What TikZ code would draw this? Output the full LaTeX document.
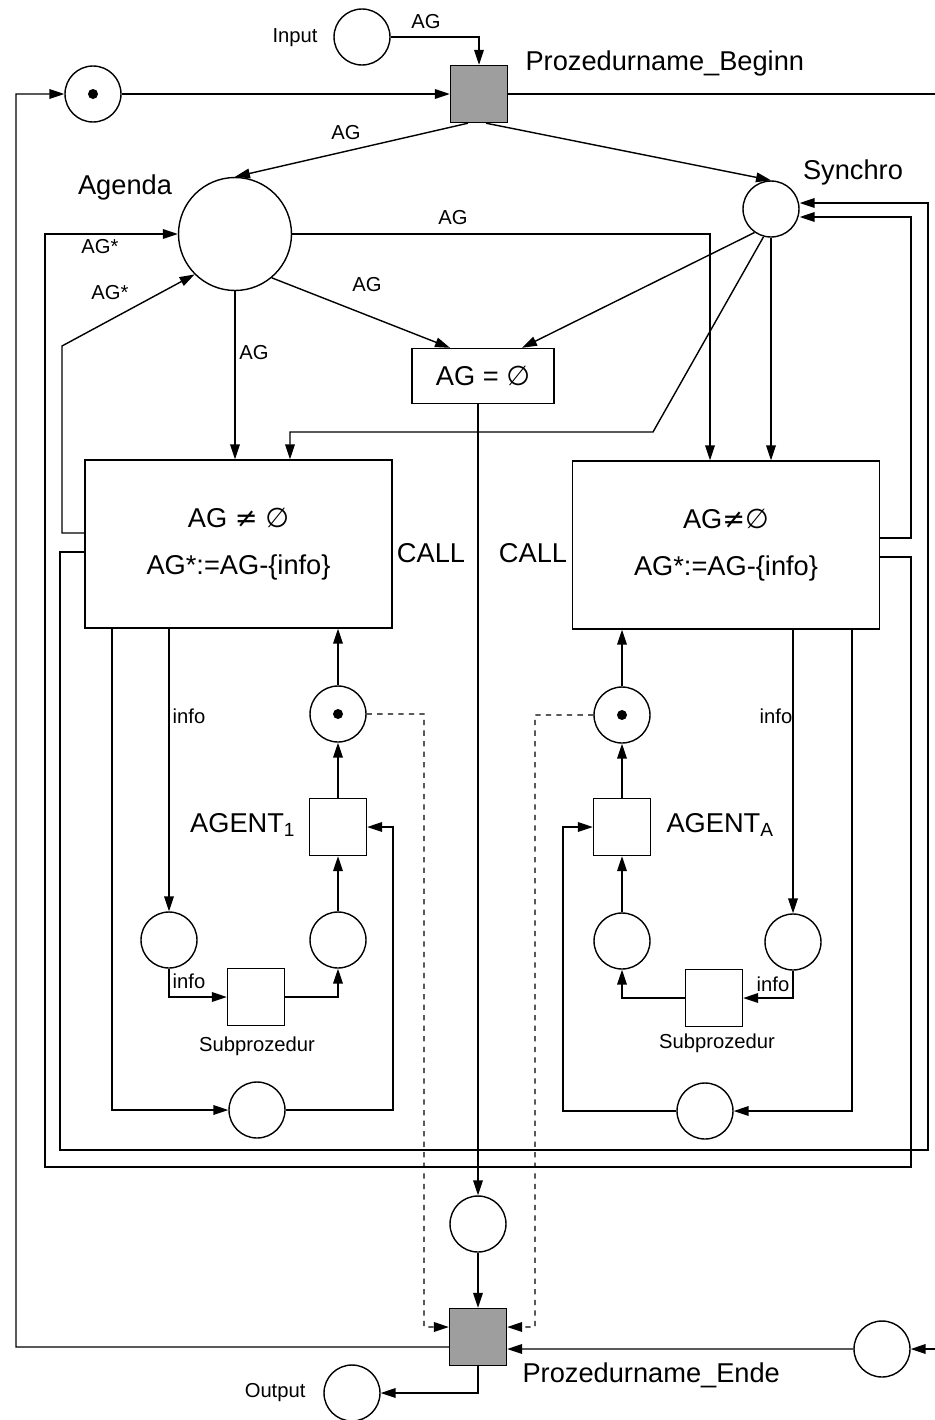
\documentclass[tikz,border=0pt]{standalone}
\usepackage{fontspec}
\setmainfont{Liberation Sans}
\newfontfamily\dejavu{DejaVu Sans}
\usetikzlibrary{arrows.meta}
\newcommand{\ungleich}{{\dejavu ≠}}
\newcommand{\leermenge}{{\dejavu ∅}}

\begin{document}
\begin{tikzpicture}[x=0.02cm,y=-0.02cm,line width=0.8pt,
	arc/.style={-{Triangle[length=8.5pt,width=5.5pt]}},
	dasharc/.style={arc,dashed},
	place/.style={circle,draw,minimum size=1.12cm,inner sep=0pt},
	trans/.style={rectangle,draw,minimum width=1.14cm,minimum height=1.14cm,inner sep=0pt},
	shaded/.style={trans,fill=black!38},
	big/.style={font=\fontsize{15.5}{18}\selectfont},
	lab/.style={font=\fontsize{11.5}{14}\selectfont},
	callbox/.style={draw,align=center,minimum width=6.14cm,minimum height=3.36cm,
		font=\fontsize{15.5}{26.7}\selectfont}]
				\useasboundingbox (0,0) rectangle (935,1420);
				
				% Stellen und Transitionen oben
				\node[place] (inp) at (362,37) {};
				\node[lab,anchor=east] (tInp) at (324,38) {Input};
				\node[shaded] (beg) at (479,94) {};
				\node[big,anchor=west] (tBeg) at (519,63) {Prozedurname\_Beginn};
				\node[place] (tok) at (93,94) {};
				\fill (tok.center) circle (0.1cm);
				\node[place,minimum size=2.26cm] (agenda) at (235,234) {};
				\node[big] (tAgenda) at (125,187) {Agenda};
				\node[place] (synchro) at (771,209) {};
				\node[big] (tSynchro) at (853,172) {Synchro};
				\node[draw,big,minimum width=2.84cm,minimum height=1.1cm] (leer) at (483,376) {AG = \leermenge};
				
				% CALL-Transitionen
				\node[callbox] (call1) at (238.5,544) {AG \ungleich{} \leermenge\\AG*:=AG-\{info\}};
				\node[callbox] (call2) at (726,545) {AG\ungleich\leermenge\\AG*:=AG-\{info\}};
				\node[big] (tCall1) at (431,553) {CALL};
				\node[big] (tCall2) at (533,553) {CALL};
				
				% linker Agent
				\node[place] (tokL) at (338,714) {};
				\fill (tokL.center) circle (0.1cm);
				\node[trans] (ag1) at (338,827) {};
				\node[big,anchor=east] (tAg1) at (302,825) {AGENT\textsubscript{1}};
				\node[place] (pL1) at (169,940) {};
				\node[place] (pL2) at (338,940) {};
				\node[trans] (sub1) at (256,997) {};
				\node[lab] (tSub1) at (257,1046) {Subprozedur};
				\node[place] (pL3) at (257,1110) {};
				\node[lab] (tInfo1) at (189,716) {info};
				\node[lab] (tInfo2) at (189,981) {info};
				
				% rechter Agent
				\node[place] (tokR) at (622,715) {};
				\fill (tokR.center) circle (0.1cm);
				\node[trans] (agA) at (622,827) {};
				\node[big,anchor=west] (tAgA) at (660,825) {AGENT\textsubscript{A}};
				\node[place] (pR1) at (622,941) {};
				\node[place] (pR2) at (793,942) {};
				\node[trans] (sub2) at (714,998) {};
				\node[lab] (tSub2) at (717,1043) {Subprozedur};
				\node[place] (pR3) at (705,1111) {};
				\node[lab] (tInfo3) at (776,716) {info};
				\node[lab] (tInfo4) at (773,984) {info};
				
				% unten
				\node[place] (mid) at (478,1224) {};
				\node[shaded] (ende) at (478,1337) {};
				\node[big,anchor=west] (tEnde) at (516,1375) {Prozedurname\_Ende};
				\node[place] (out) at (352,1393) {};
				\node[lab,anchor=east] (tOut) at (312,1393) {Output};
				\node[place] (rp) at (882,1349) {};
				
				% Kantenbeschriftungen
				\node[lab] (lAG1) at (426,22) {AG};
				\node[lab] (lAG2) at (346,133) {AG};
				\node[lab] (lAG3) at (453,218) {AG};
				\node[lab] (lAG4) at (367,285) {AG};
				\node[lab] (lAG5) at (254,353) {AG};
				\node[lab] (lAGs1) at (100,247) {AG*};
				\node[lab] (lAGs2) at (110,293) {AG*};
				
				% Eckpunkte
				\coordinate (rand1) at (935,94);
				\coordinate (rand2) at (935,1349);
				\coordinate (k1) at (653,432);
				\coordinate (k2) at (62,346);
				\coordinate (k3) at (393,827);
				\coordinate (k4) at (563,827);
				\coordinate (u1) at (60,1150);
				\coordinate (u2) at (928,1150);
				\coordinate (u3) at (45,1167);
				\coordinate (e1) at (424,1327);
				\coordinate (e2) at (535,1327);
				\coordinate (f1) at (16,1347);
				
				% Kanten oben
				\draw[arc] (inp) -| (beg);
				\draw[arc] (tok) -- (beg);
				\draw (beg) -- (rand1);
				\draw[arc] ([xshift=-0.22cm]beg.south) -- (agenda.north);
				\draw[arc] ([xshift=0.14cm]beg.south) -- (synchro.north);
				\draw[arc] (agenda.east) -| ([xshift=-0.32cm]call2.north);
				\draw[arc] (agenda.-50) -- ([xshift=-0.66cm]leer.north);
				\draw[arc] (agenda) -- (agenda |- call1.north);
				\draw[arc] (synchro.-125) -- ([xshift=0.78cm]leer.north);
				\draw[arc] (synchro.-105) -- (k1) -| ([xshift=1.03cm]call1.north);
				\draw[arc] (synchro) -- (synchro |- call2.north);
				
				% Rueckkanten
				\draw[arc] ([yshift=0.22cm]call1.west) -| (k2) -- (agenda.-135);
				\draw[arc] ([yshift=-0.16cm]call1.west) -| (u1) -- (u2) |- ([yshift=0.12cm]synchro.east);
				\draw[arc] ([yshift=0.14cm]call2.east) -- ++(0.62cm,0) |- ([yshift=-0.16cm]synchro.east);
				\draw[arc] ([yshift=-0.24cm]call2.east) -- ++(0.62cm,0) |- (u3) |- (agenda.west);
				
				% linker Agent
				\draw[arc] (call1.south -| pL1) -- (pL1);
				\draw[arc] ([xshift=-2.53cm]call1.south) |- (pL3);
				\draw[arc] (pL3) -| (k3) -- (ag1);
				\draw[arc] (pL1) |- (sub1);
				\draw[arc] (sub1) -| (pL2);
				\draw[arc] (pL2) -- (ag1);
				\draw[arc] (ag1) -- (tokL);
				\draw[arc] (tokL) -- (tokL |- call1.south);
				\draw[dasharc] (tokL) -| (e1) -- ([yshift=0.2cm]ende.west);
				
				% rechter Agent
				\draw[arc] (call2.south -| pR2) -- (pR2);
				\draw[arc] ([xshift=2.52cm]call2.south) |- (pR3);
				\draw[arc] (pR3) -| (k4) -- (agA);
				\draw[arc] (pR2) |- (sub2);
				\draw[arc] (sub2) -| (pR1);
				\draw[arc] (pR1) -- (agA);
				\draw[arc] (agA) -- (tokR);
				\draw[arc] (tokR) -- (tokR |- call2.south);
				\draw[dasharc] (tokR) -| (e2) -- ([yshift=0.2cm]ende.east);
				
				% Kanten unten
				\draw[arc] (leer.south -| mid) -- (mid);
				\draw[arc] (mid) -- (ende);
				\draw[arc] (ende) |- (out);
				\draw[arc] ([yshift=-0.2cm]ende.west) -- (f1) |- (tok);
				\draw[arc] (rp) -- ([yshift=-0.24cm]ende.east);
				\draw[arc] (rand2) -- (rp);
				
\end{tikzpicture}
\end{document}
